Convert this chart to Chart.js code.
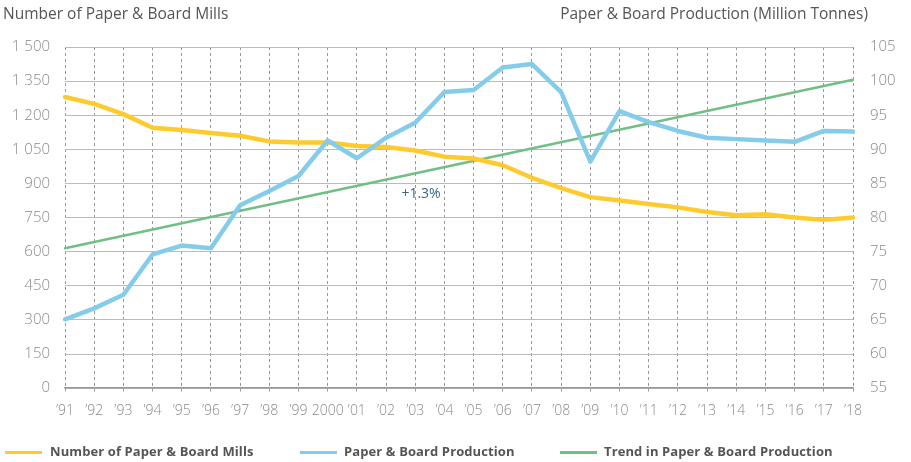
<!DOCTYPE html>
<html>
<head>
<meta charset="utf-8">
<script src="https://cdn.jsdelivr.net/npm/chart.js@4/dist/chart.umd.min.js"></script>
<style>
  html, body { margin: 0; padding: 0; background: #fff; }
  #wrap { position: relative; width: 911px; height: 462px; font-family: "Open Sans", Lato, sans-serif; }
  #wrap canvas { position: absolute; left: 0; top: 0; }
  .title { position: absolute; top: 2px; font-size: 15.5px; color: #555; white-space: nowrap; }
  .leg { position: absolute; top: 442px; font-size: 13px; font-weight: bold; letter-spacing: 0.1px; color: #555; white-space: nowrap; }
  .sw { position: absolute; top: 451px; width: 37px; height: 3px; }
</style>
</head>
<body>
<div id="wrap">
  <canvas id="c"></canvas>
  <div class="title" style="left:3px">Number of Paper &amp; Board Mills</div>
  <div class="title" style="right:43px">Paper &amp; Board Production (Million Tonnes)</div>
  <div class="sw" style="left:5px;background:#FECB2F"></div>
  <div class="leg" style="left:50px">Number of Paper &amp; Board Mills</div>
  <div class="sw" style="left:300px;background:#85CCEA"></div>
  <div class="leg" style="left:344px">Paper &amp; Board Production</div>
  <div class="sw" style="left:560px;background:#72BF86"></div>
  <div class="leg" style="left:604px">Trend in Paper &amp; Board Production</div>
</div>
<script>
const years = ["’91","’92","’93","’94","’95","’96","’97","’98","’99","2000","’01","’02","’03","’04",
  "’05","’06","’07","’08","’09","’10","’11","’12","’13","’14","’15","’16","’17","’18"];

// number of mills, left axis
const mills = [1280, 1250, 1205, 1145, 1135, 1122, 1110, 1085, 1080, 1080, 1065, 1060, 1045, 1018,
  1010, 980, 925, 880, 840, 825, 810, 795, 775, 760, 765, 750, 740, 750];

// production in million tonnes, right axis
const production = [65.1, 66.7, 68.7, 74.6, 75.9, 75.5, 81.8, 83.9, 86.1, 91.3, 88.7, 91.7, 93.9, 98.4,
  98.7, 102.0, 102.5, 98.4, 88.2, 95.6, 94.0, 92.7, 91.7, 91.5, 91.3, 91.1, 92.7, 92.6];

const trend = [75.5, null, null, null, null, null, null, null, null, null, null, null, null, null,
  null, null, null, null, null, null, null, null, null, null, null, null, null, 100.2];

const trendLabel = "+1.3%";
const trendLabelAt = [12.2, 855]; // category index, left axis value

const leftTicks = [0, 1500, 150];
const rightTicks = [55, 105, 5];

const tickFont = { family: "'Open Sans', Lato, sans-serif", size: 15, weight: 300 };

const labelPlugin = {
  id: "trendLabel",
  afterDatasetsDraw(chart) {
    const ctx = chart.ctx;
    const x = chart.scales.x.getPixelForValue(trendLabelAt[0]);
    const y = chart.scales.y.getPixelForValue(trendLabelAt[1]);
    ctx.save();
    ctx.font = "14px 'Open Sans', Lato, sans-serif";
    ctx.fillStyle = "#3B6583";
    ctx.textAlign = "center";
    ctx.textBaseline = "middle";
    ctx.fillText(trendLabel, x, y);
    ctx.restore();
  }
};

new Chart(document.getElementById("c"), {
  type: "line",
  data: {
    labels: years,
    datasets: [
      { label: "Paper & Board Production", data: production, yAxisID: "y2",
        borderColor: "#85CCEA", borderWidth: 4.5, order: 1 },
      { label: "Number of Paper & Board Mills", data: mills, yAxisID: "y",
        borderColor: "#FECB2F", borderWidth: 4.5, order: 2 },
      { label: "Trend in Paper & Board Production", data: trend, yAxisID: "y2",
        borderColor: "#72BF86", borderWidth: 2.5, spanGaps: true, order: 3 }
    ]
  },
  options: {
    responsive: true,
    maintainAspectRatio: false,
    animation: false,
    elements: { point: { radius: 0 }, line: { tension: 0, borderCapStyle: "round", borderJoinStyle: "round" } },
    layout: { padding: { top: 47, bottom: 35, left: 0, right: 0 } },
    plugins: { legend: { display: false }, tooltip: { enabled: false } },
    scales: {
      x: {
        grid: { color: "#999", lineWidth: 1, tickLength: 6, drawOnChartArea: true, tickBorderDash: [3, 3] },
        border: { display: true, color: "#999", width: 1.5, dash: [3, 3] },
        ticks: { color: "#8a8a8a", font: { ...tickFont, size: 14 }, padding: 8, maxRotation: 0, autoSkip: false }
      },
      y: {
        position: "left",
        min: leftTicks[0], max: leftTicks[1],
        afterFit(s) { s.width = 65; },
        grid: { color: "#bbb", lineWidth: 1, drawTicks: false },
        border: { display: false },
        ticks: { stepSize: leftTicks[2], color: "#8a8a8a", font: tickFont, padding: 15,
          callback: v => String(v).replace(/\B(?=(\d{3})+(?!\d))/g, " ") }
      },
      y2: {
        position: "right",
        min: rightTicks[0], max: rightTicks[1],
        afterFit(s) { s.width = 58; },
        grid: { display: false },
        border: { display: false },
        ticks: { stepSize: rightTicks[2], color: "#8a8a8a", font: tickFont, padding: 9 }
      }
    }
  },
  plugins: [labelPlugin]
});
</script>
</body>
</html>
